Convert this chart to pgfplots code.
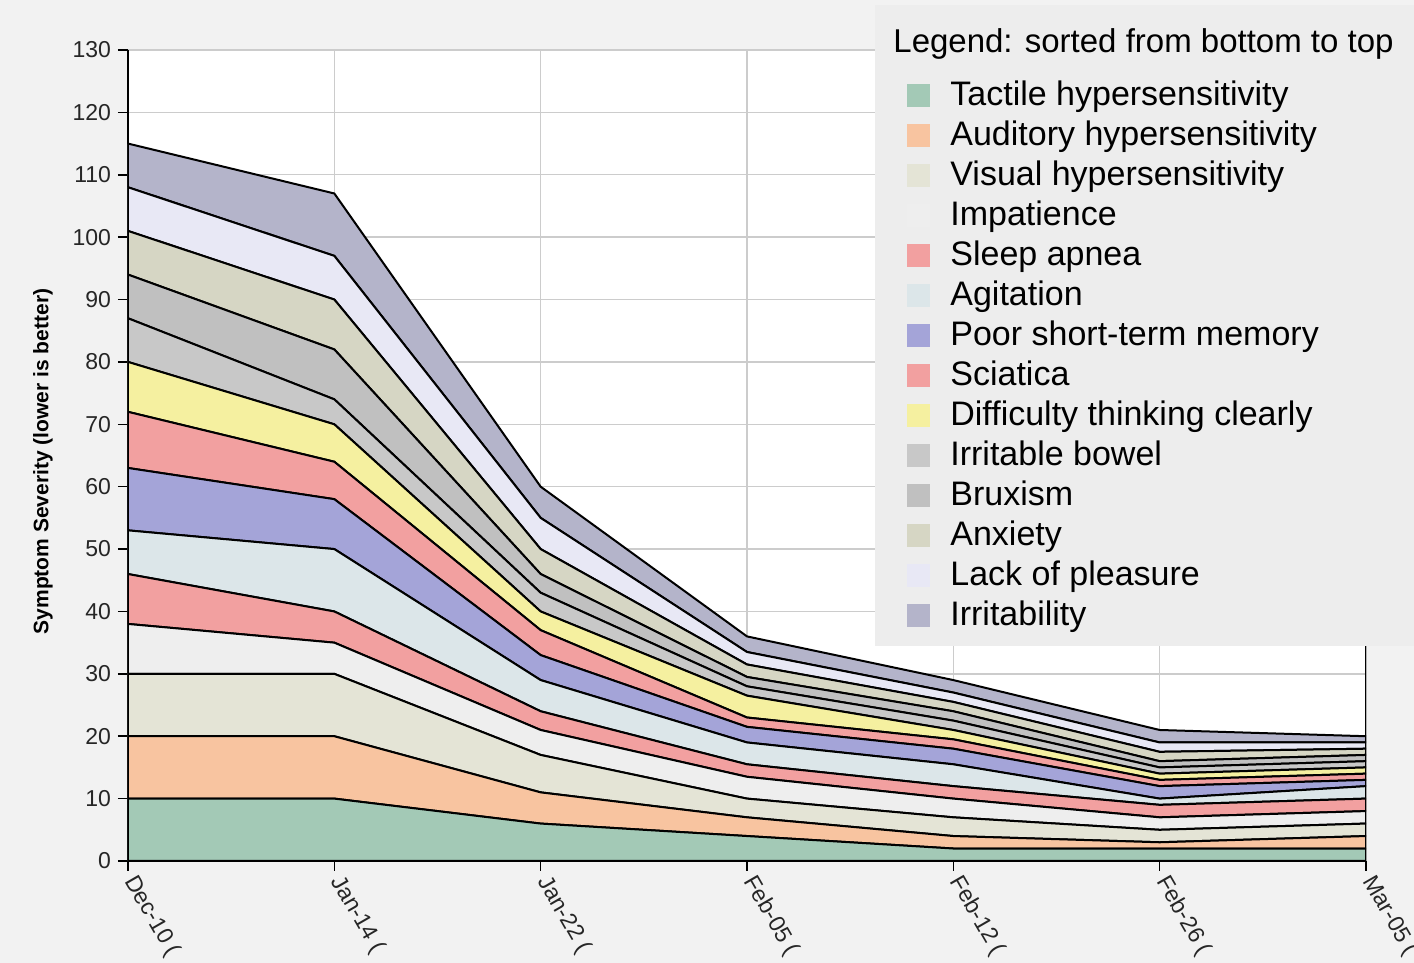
\documentclass[border=0pt]{standalone}
\usepackage{fontspec}
\setmainfont{Liberation Sans}
\usepackage{pgfplots}
\usepackage{pgfplotstable}
\pgfplotsset{compat=1.18}

\definecolor{bggray}{RGB}{242,242,242}
\definecolor{leggray}{RGB}{237,237,237}
\definecolor{cTac}{RGB}{163,201,182}
\definecolor{cAud}{RGB}{248,196,160}
\definecolor{cVis}{RGB}{228,228,214}
\definecolor{cImp}{RGB}{238,238,238}
\definecolor{cSlp}{RGB}{242,160,160}
\definecolor{cAgi}{RGB}{220,230,233}
\definecolor{cPsm}{RGB}{164,164,216}
\definecolor{cSci}{RGB}{242,160,160}
\definecolor{cDif}{RGB}{245,240,160}
\definecolor{cIbw}{RGB}{200,200,200}
\definecolor{cBru}{RGB}{192,192,192}
\definecolor{cAnx}{RGB}{214,214,196}
\definecolor{cLop}{RGB}{232,232,245}
\definecolor{cIrr}{RGB}{180,180,202}

\pgfplotstableread{
x tac aud vis imp slp agi psm sci dif ibw bru anx lop irr
0 10 10 10 8   8 7   10  9   8   7   7   7   7   7
1 10 10 10 5   5 10  8   6   6   4   8   8   7   10
2 6  5  6  4   3 5   4   4   3   3   3   4   5   5
3 4  3  3  3.5 2 3.5 2.5 1.5 3.5 1.5 1.5 2   2   2.5
4 2  2  3  3   2 3.5 2.5 1.5 1.5 1.5 1.5 1.5 1.5 2
5 2  1  2  2   2 1   2   1   1   1   1   1.5 1.5 2
6 2  2  2  2   2 2   1   1   1   1   1   1   1   1
}\data

\begin{document}
\begin{tikzpicture}
\useasboundingbox[fill=bggray] (-64pt,-51pt) rectangle (643pt,430.5pt);
\begin{axis}[
  at={(0,0)}, anchor=south west,
  width=619pt, height=405.5pt, scale only axis,
  xmin=0, xmax=6, ymin=0, ymax=130,
  xtick={0,...,6},
  xticklabels={Dec-10 (,Jan-14 (,Jan-22 (,Feb-05 (,Feb-12 (,Feb-26 (,Mar-05 (},
  ytick={0,10,...,130},
  grid=major,
  grid style={gray!40, line width=0.7pt},
  axis background/.style={fill=white},
  axis x line*=bottom, axis y line*=left,
  axis line style={black, line width=1pt, -},
  tick style={black, line width=0.8pt},
  tick align=outside, major tick length=5pt,
  /pgf/number format/assume math mode=true,
  tick label style={font=\fontsize{11.5}{13}\selectfont, text=black!85},
  xticklabel style={rotate=-60, anchor=west, yshift=-1pt},
  ylabel={Symptom Severity (lower is better)},
  ylabel style={font=\fontsize{10.5}{12}\selectfont\bfseries, at={(axis description cs:-0.0687,0.4926)}, anchor=center},
  stack plots=y,
  every axis plot/.append style={draw=black, line width=1pt},
  legend image code/.code={\fill[#1, draw=none] (0pt,-3.5pt) rectangle (11.5pt,8pt);},
  legend cell align=left,
  legend style={at={(0.6034,1.0555)}, anchor=north west, fill=leggray, draw=none,
    font=\fontsize{17}{19}\selectfont, inner xsep=16pt, inner ysep=3pt,
    row sep=0pt, column sep=10pt,
    nodes={inner sep=0pt, text height=12.5pt, text depth=7.5pt}},
]
\addlegendimage{empty legend}
\addlegendentry[text height=20.5pt, text depth=14pt]{\hspace{-28.5pt}\fontsize{16.5}{19}\selectfont Legend: sorted from bottom to top\hspace{-7pt}}
\addplot[fill=cTac] table[x=x, y=tac] {\data} \closedcycle;
\addlegendentry{Tactile hypersensitivity}
\addplot[fill=cAud] table[x=x, y=aud] {\data} \closedcycle;
\addlegendentry{Auditory hypersensitivity}
\addplot[fill=cVis] table[x=x, y=vis] {\data} \closedcycle;
\addlegendentry{Visual hypersensitivity}
\addplot[fill=cImp] table[x=x, y=imp] {\data} \closedcycle;
\addlegendentry{Impatience}
\addplot[fill=cSlp] table[x=x, y=slp] {\data} \closedcycle;
\addlegendentry{Sleep apnea}
\addplot[fill=cAgi] table[x=x, y=agi] {\data} \closedcycle;
\addlegendentry{Agitation}
\addplot[fill=cPsm] table[x=x, y=psm] {\data} \closedcycle;
\addlegendentry{Poor short-term memory}
\addplot[fill=cSci] table[x=x, y=sci] {\data} \closedcycle;
\addlegendentry{Sciatica}
\addplot[fill=cDif] table[x=x, y=dif] {\data} \closedcycle;
\addlegendentry{Difficulty thinking clearly}
\addplot[fill=cIbw] table[x=x, y=ibw] {\data} \closedcycle;
\addlegendentry{Irritable bowel}
\addplot[fill=cBru] table[x=x, y=bru] {\data} \closedcycle;
\addlegendentry{Bruxism}
\addplot[fill=cAnx] table[x=x, y=anx] {\data} \closedcycle;
\addlegendentry{Anxiety}
\addplot[fill=cLop] table[x=x, y=lop] {\data} \closedcycle;
\addlegendentry{Lack of pleasure}
\addplot[fill=cIrr] table[x=x, y=irr] {\data} \closedcycle;
\addlegendentry{Irritability}
\draw[black, line width=1pt] (rel axis cs:1,0) -- (rel axis cs:1,1);
\end{axis}
\end{tikzpicture}
\end{document}
